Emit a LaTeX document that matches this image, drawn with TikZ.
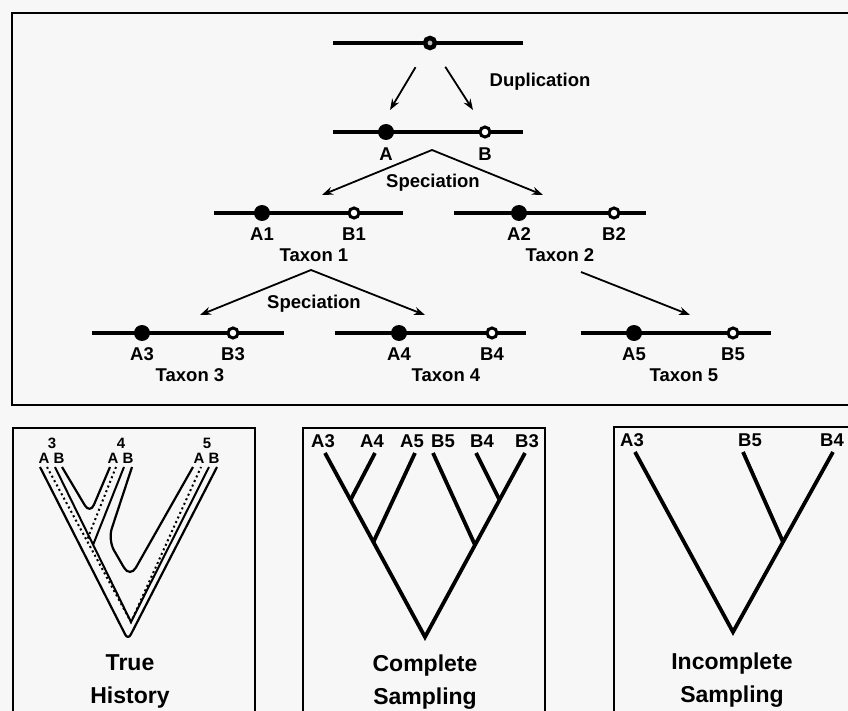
\documentclass[tikz,border=0pt]{standalone}
\usepackage{fontspec}
\setmainfont{Liberation Sans}
\usetikzlibrary{positioning,arrows.meta,calc}

\begin{document}
\begin{tikzpicture}[x=1pt,y=-1pt,
  gene/.style={line width=4pt},
  copyA/.style={circle,fill=black,inner sep=0pt,minimum size=16pt},
  copyB/.style={circle,draw=black,fill=white,line width=3pt,inner sep=0pt,minimum size=10pt},
  anc/.style={circle,draw=black,fill=gray!50,line width=4.5pt,inner sep=0pt,minimum size=10pt},
  lbl/.style={font=\bfseries\fontsize{18.5}{20}\selectfont,inner sep=0pt},
  small/.style={font=\bfseries\fontsize{15}{17}\selectfont,inner sep=0pt},
  ttl/.style={font=\bfseries\fontsize{23}{33}\selectfont,align=center,inner sep=0pt},
  evt/.style={-{Stealth[length=11pt,width=8pt]},line width=1.8pt},
  fork/.style={{Stealth[length=11pt,width=8pt]}-{Stealth[length=11pt,width=8pt]},line width=1.8pt},
  branch/.style={line width=3.8pt},
  wall/.style={line width=2.2pt},
  geneA/.style={line width=2pt,dash pattern=on 2pt off 3pt},
  geneB/.style={line width=2pt},
  panel/.style={line width=2.5pt}]

% Page
\useasboundingbox (0,0) rectangle (848,711);
\fill[gray!6] (0,0) rectangle (848,711);

% Frames
\draw[panel] (848,13) -- (12,13) -- (12,405) -- (848,405);
\draw[panel] (13,711) -- (13,428) -- (255,428) -- (255,711);
\draw[panel] (303,711) -- (303,428) -- (545,428) -- (545,711);
\draw[panel] (614,711) -- (614,427) -- (848,427);

% Ancestral gene
\draw[gene] (333,43) -- (523,43);
\node[anc] (anc) at (430,43) {};
\coordinate (dupA) at (390,110);
\coordinate (dupB) at (473,110);
\draw[evt,shorten <=21pt] (anc) -- (dupA);
\draw[evt,shorten <=21pt] (anc) -- (dupB);
\node[lbl] (dup) at (540,82) {Duplication};

% Duplicated genes
\draw[gene] (333,132) -- (523,132);
\node[copyA] (a) at (386,132) {};
\node[copyB] (b) at (485,132) {};
\node[lbl] (la) at (386,154) {A};
\node[lbl] (lb) at (485,154) {B};

% Speciation
\coordinate (sp1) at (432,150);
\coordinate (sp1L) at (322,195);
\coordinate (sp1R) at (543,195);
\draw[fork] (sp1L) -- (sp1) -- (sp1R);
\node[lbl] (spec1) at (433,183) {Speciation};

% Taxa
\foreach \t/\l/\r/\xa/\xb/\y/\xt in {1/214/403/262/354/213/314,
    2/454/646/519/614/213/560,
    3/92/284/142/233/333/190,
    4/335/526/399/492/333/446,
    5/581/771/634/733/333/684} {
  \draw[gene] (\l,\y) -- (\r,\y);
  \node[copyA] (a\t) at (\xa,\y) {};
  \node[copyB] (b\t) at (\xb,\y) {};
  \node[lbl] (la\t) at (\xa,{\y+21}) {A\t};
  \node[lbl] (lb\t) at (\xb,{\y+21}) {B\t};
  \node[lbl] (tx\t) at (\xt,{\y+42}) {Taxon \t};
}

% Speciation again
\coordinate (sp2) at (311,270);
\coordinate (sp2L) at (200,315);
\coordinate (sp2R) at (425,315);
\draw[fork] (sp2L) -- (sp2) -- (sp2R);
\node[lbl] (spec2) at (314,304) {Speciation};
\coordinate (sp3) at (581,272);
\coordinate (sp3R) at (690,315);
\draw[evt] (sp3) -- (sp3R);

% True history
\foreach \s/\x in {3/52,4/121,5/207} {
  \node[small] (n\s) at (\x,443) {\s};
  \node[small] (gA\s) at ({\x-8},458) {A};
  \node[small] (gB\s) at ({\x+7},458) {B};
}
\draw[wall,rounded corners=6pt] (40,467) -- (128,640) -- (217,467);
\draw[wall,rounded corners=10pt] (62,467) -- (90,514) -- (110,467);
\draw[wall,rounded corners=12pt] (132,467) -- (108,540) -- (130,578) -- (193,467);
\draw[geneA] (47,467) -- (131,622) -- (201,467);
\draw[geneA] (116,467) -- (87,540);
\draw[geneB] (55,467) -- (131,622) -- (209,467);
\draw[geneB] (124,467) -- (93,545);
\node[ttl] (true) at (130,681) {True\\History};

% Complete sampling
\node[lbl] (lcA3) at (323,441) {A3};
\node[lbl] (lcA4) at (372,441) {A4};
\node[lbl] (lcA5) at (412,441) {A5};
\node[lbl] (lcB5) at (443,441) {B5};
\node[lbl] (lcB4) at (482,441) {B4};
\node[lbl] (lcB3) at (527,441) {B3};
\coordinate (cA3) at (325,453);
\coordinate (cA4) at (375,453);
\coordinate (cA5) at (415,453);
\coordinate (cB5) at (433,453);
\coordinate (cB4) at (476,453);
\coordinate (cB3) at (525,453);
\coordinate (croot) at (425,637);
\coordinate (cjA) at ($(cA3)!0.255!(croot)$);
\coordinate (cjAA) at ($(cA3)!0.484!(croot)$);
\coordinate (cjB) at ($(cB3)!0.255!(croot)$);
\coordinate (cjBB) at ($(cB3)!0.5!(croot)$);
\draw[branch] (cA3) -- (croot) -- (cB3);
\draw[branch] (cA4) -- (cjA);
\draw[branch] (cA5) -- (cjAA);
\draw[branch] (cB4) -- (cjB);
\draw[branch] (cB5) -- (cjBB);
\node[ttl] (comp) at (425,682) {Complete\\Sampling};

% Incomplete sampling
\node[lbl] (liA3) at (632,440) {A3};
\node[lbl] (liB5) at (750,440) {B5};
\node[lbl] (liB4) at (832,440) {B4};
\coordinate (iA3) at (635,452);
\coordinate (iB5) at (743,452);
\coordinate (iB4) at (833,452);
\coordinate (iroot) at (733,632);
\coordinate (ij) at ($(iB4)!0.5!(iroot)$);
\draw[branch] (iA3) -- (iroot) -- (iB4);
\draw[branch] (iB5) -- (ij);
\node[ttl] (incomp) at (732,680) {Incomplete\\Sampling};
\end{tikzpicture}
\end{document}
